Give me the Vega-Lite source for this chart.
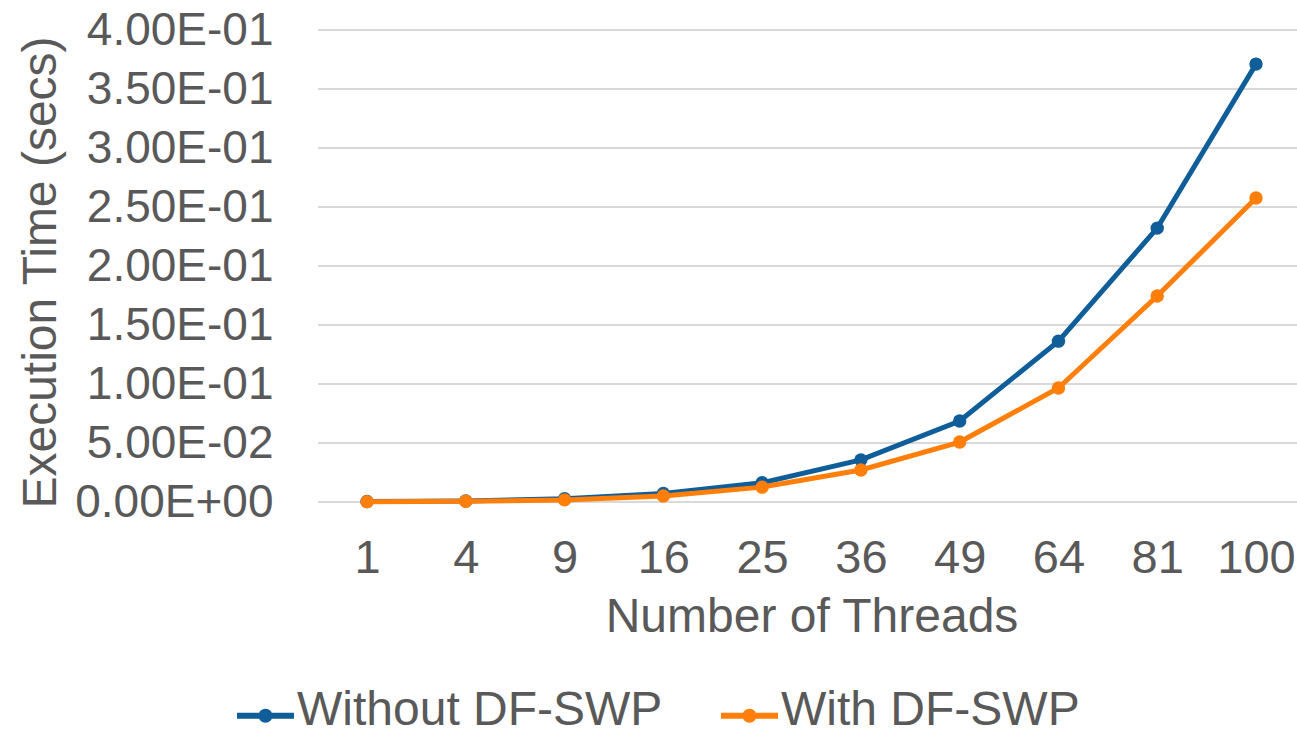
{
  "$schema": "https://vega.github.io/schema/vega-lite/v6.json",
  "autosize": {"type": "none"},
  "width": 979,
  "height": 472,
  "padding": {"left": 318, "top": 30, "right": 0, "bottom": 230},
  "background": "white",
  "config": {
    "view": {"stroke": null},
    "font": "Liberation Sans",
    "axis": {"labelFont": "Liberation Sans", "titleFont": "Liberation Sans", "labelColor": "#595959", "titleColor": "#595959", "titleFontWeight": "normal"},
    "legend": {"labelFont": "Liberation Sans", "labelColor": "#595959"}
  },
  "datasets": {
    "gridlines": [
      {"level": 0}, {"level": 0.05}, {"level": 0.1}, {"level": 0.15}, {"level": 0.2},
      {"level": 0.25}, {"level": 0.3}, {"level": 0.35}, {"level": 0.4}
    ],
    "timings": [
      {"threads": "1", "series": "Without DF-SWP", "time": 0.0004},
      {"threads": "4", "series": "Without DF-SWP", "time": 0.0009},
      {"threads": "9", "series": "Without DF-SWP", "time": 0.0028},
      {"threads": "16", "series": "Without DF-SWP", "time": 0.0072},
      {"threads": "25", "series": "Without DF-SWP", "time": 0.0163},
      {"threads": "36", "series": "Without DF-SWP", "time": 0.0357},
      {"threads": "49", "series": "Without DF-SWP", "time": 0.0686},
      {"threads": "64", "series": "Without DF-SWP", "time": 0.1363},
      {"threads": "81", "series": "Without DF-SWP", "time": 0.2321},
      {"threads": "100", "series": "Without DF-SWP", "time": 0.3711},
      {"threads": "1", "series": "With DF-SWP", "time": 0.0003},
      {"threads": "4", "series": "With DF-SWP", "time": 0.0006},
      {"threads": "9", "series": "With DF-SWP", "time": 0.0018},
      {"threads": "16", "series": "With DF-SWP", "time": 0.0051},
      {"threads": "25", "series": "With DF-SWP", "time": 0.0126},
      {"threads": "36", "series": "With DF-SWP", "time": 0.0271},
      {"threads": "49", "series": "With DF-SWP", "time": 0.0508},
      {"threads": "64", "series": "With DF-SWP", "time": 0.0966},
      {"threads": "81", "series": "With DF-SWP", "time": 0.1746},
      {"threads": "100", "series": "With DF-SWP", "time": 0.2576}
    ]
  },
  "layer": [
    {
      "data": {"name": "gridlines"},
      "mark": {"type": "rule", "color": "#d9d9d9", "strokeWidth": 2},
      "encoding": {
        "y": {
          "field": "level", "type": "quantitative", "scale": {"domain": [0, 0.4], "nice": false},
          "axis": {
            "title": "Execution Time (secs)", "values": [0, 0.05, 0.1, 0.15, 0.2, 0.25, 0.3, 0.35, 0.4],
            "labelExpr": "datum.value == 0 ? '0.00E+00' : (datum.value < 0.099 ? format(datum.value * 100, '.2f') + 'E-02' : format(datum.value * 10, '.2f') + 'E-01')",
            "labelFontSize": 46, "labelLimit": 400, "titleFontSize": 48, "labelPadding": 45,
            "titleX": -253, "titleY": 242, "titleBaseline": "bottom",
            "ticks": false, "domain": false, "grid": false
          }
        }
      }
    },
    {
      "data": {"name": "timings"},
      "encoding": {
        "x": {
          "field": "threads", "type": "ordinal", "sort": null,
          "scale": {"type": "point", "range": [49, 938], "padding": 0},
          "axis": {"title": "Number of Threads", "labelAngle": 0, "labelFontSize": 47, "titleFontSize": 48, "labelPadding": 33, "titlePadding": 12, "ticks": false, "domain": false, "grid": false}
        },
        "y": {
          "field": "time", "type": "quantitative",
          "scale": {"domain": [0, 0.4], "nice": false},
          "axis": {
            "title": "Execution Time (secs)", "values": [0, 0.05, 0.1, 0.15, 0.2, 0.25, 0.3, 0.35, 0.4],
            "labelExpr": "datum.value == 0 ? '0.00E+00' : (datum.value < 0.099 ? format(datum.value * 100, '.2f') + 'E-02' : format(datum.value * 10, '.2f') + 'E-01')",
            "labelFontSize": 46, "labelLimit": 400, "titleFontSize": 48, "labelPadding": 45,
            "titleX": -253, "titleY": 242, "titleBaseline": "bottom",
            "ticks": false, "domain": false, "grid": false
          }
        },
        "color": {
          "field": "series", "type": "nominal",
          "scale": {"domain": ["Without DF-SWP", "With DF-SWP"], "range": ["#0f5e99", "#ff7f0a"]},
          "legend": {
            "title": null, "orient": "none", "direction": "horizontal", "legendX": -81, "legendY": 657,
            "labelFontSize": 48, "labelLimit": 600, "labelOffset": 3, "columnPadding": 58, "padding": 0,
            "symbolSize": 3249,
            "symbolType": "M-1,-0.105L-1,0.105L1,0.105L1,-0.105Z M-0.245,0A0.245,0.245,0,1,0,0.245,0A0.245,0.245,0,1,0,-0.245,0Z",
            "encode": {
              "symbols": {"update": {"fill": {"scale": "color", "field": "value"}, "strokeWidth": {"value": 0}}},
              "labels": {"update": {"dy": {"value": -5}}}
            }
          }
        }
      },
      "layer": [
        {
          "transform": [{"filter": "datum.series == 'Without DF-SWP'"}],
          "mark": {"type": "line", "strokeWidth": 5, "point": {"filled": true, "size": 180}}
        },
        {
          "transform": [{"filter": "datum.series == 'With DF-SWP'"}],
          "mark": {"type": "line", "strokeWidth": 5, "point": {"filled": true, "size": 180}}
        }
      ]
    }
  ]
}
